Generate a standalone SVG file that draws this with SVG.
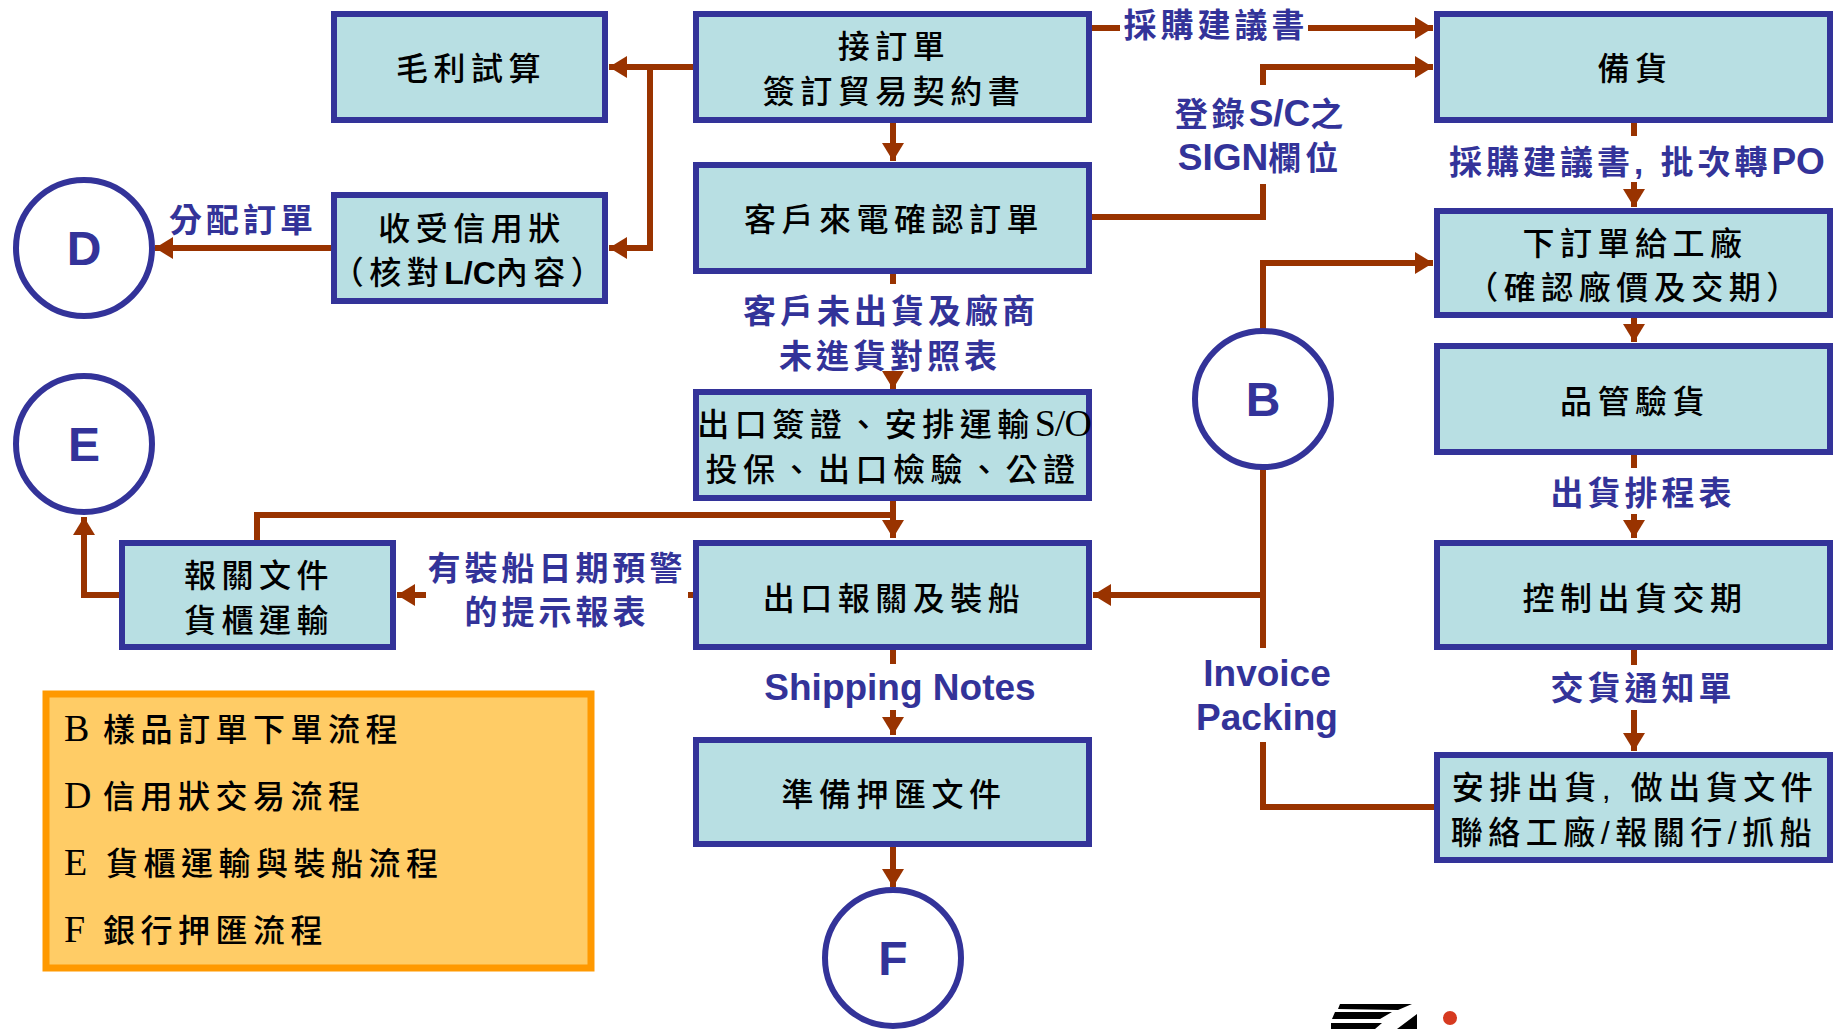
<svg xmlns="http://www.w3.org/2000/svg" width="1841" height="1029" viewBox="0 0 1841 1029">
<style>
text{font-family:"Liberation Sans","Noto Sans CJK TC",sans-serif;text-anchor:middle}
.box{fill:#B8DFE3;stroke:#333399;stroke-width:6}
.circ{fill:#fff;stroke:#333399;stroke-width:6}
.t{font-size:32px;fill:#000;letter-spacing:5.5px;font-weight:500}
.l{font-size:33px;fill:#333399;font-weight:700;letter-spacing:4px}
.en{font-size:37px;fill:#333399;font-weight:700;letter-spacing:0}
.c{font-size:48px;fill:#333399;font-weight:700}
.s{font-family:"Liberation Serif","Noto Sans CJK TC",serif}
.b{font-weight:700}
.lg{font-size:32px;fill:#000;text-anchor:start;letter-spacing:5.5px;font-weight:500}
.ll{font-size:38px}
.cn{fill:none;stroke:#993300;stroke-width:6}
.arr{fill:none;stroke:#993300;stroke-width:6;marker-end:url(#ah)}
</style>
<defs><marker id="ah" markerUnits="userSpaceOnUse" markerWidth="22" markerHeight="24" refX="18" refY="11" orient="auto"><path d="M0 0L18 11L0 22Z" fill="#993300"/></marker></defs>
<rect width="1841" height="1029" fill="#fff"/>
<g id="connectors">
<path class="arr" d="M693 67H609"/>
<path class="arr" d="M650 67V248H609"/>
<path class="arr" d="M893 122V161"/>
<path class="cn" d="M1092 28H1120"/>
<path class="arr" d="M1308 28H1433"/>
<path class="cn" d="M1092 217H1263V184"/>
<path class="arr" d="M1263 85V67H1433"/>
<path class="cn" d="M1634 122V136"/>
<path class="arr" d="M1634 182V207"/>
<path class="arr" d="M1263 331V263H1433"/>
<path class="arr" d="M1634 316V342"/>
<path class="cn" d="M1634 452V468"/>
<path class="arr" d="M1634 514V538"/>
<path class="cn" d="M1634 648V665"/>
<path class="arr" d="M1634 710V751"/>
<path class="cn" d="M1436 807H1263V742"/>
<path class="cn" d="M1263 467V648"/>
<path class="arr" d="M1263 595H1093"/>
<path class="cn" d="M893 271V284"/>
<path class="arr" d="M893 375V389"/>
<path class="arr" d="M893 498V538"/>
<path class="cn" d="M893 515H257V541"/>
<path class="cn" d="M693 595H688"/>
<path class="arr" d="M426 595H397"/>
<path class="arr" d="M120 595H84V517"/>
<path class="arr" d="M332 248H155"/>
<path class="cn" d="M893 648V664"/>
<path class="arr" d="M893 710V735"/>
<path class="arr" d="M893 845V887"/>
</g>
<g id="n-margin"><rect class="box" x="334" y="14" width="271" height="106"/><text class="t" x="471" y="80">毛利試算</text></g>
<g id="n-order"><rect class="box" x="696" y="14" width="393" height="106"/><text class="t" x="894" y="58">接訂單</text><text class="t" x="894" y="103">簽訂貿易契約書</text></g>
<g id="n-stock"><rect class="box" x="1437" y="14" width="393" height="106"/><text class="t" x="1635" y="80">備貨</text></g>
<g id="n-confirm"><rect class="box" x="696" y="165" width="393" height="106"/><text class="t" x="894" y="231">客戶來電確認訂單</text></g>
<g id="n-lc"><rect class="box" x="334" y="195" width="271" height="106"/><text class="t" x="472" y="240">收受信用狀</text><text class="t" x="470" y="284" letter-spacing="6">（核對<tspan class="b" letter-spacing="0">L/C</tspan>內容）</text></g>
<g id="n-po"><rect class="box" x="1437" y="211" width="393" height="104"/><text class="t" x="1635" y="255">下訂單給工廠</text><text class="t" x="1635" y="299">（確認廠價及交期）</text></g>
<g id="n-qc"><rect class="box" x="1437" y="346" width="393" height="106"/><text class="t" x="1635" y="413">品管驗貨</text></g>
<g id="n-export"><rect class="box" x="696" y="392" width="393" height="106"/><text class="t" x="894" y="436" letter-spacing="4.2">出口簽證、安排運輸<tspan class="s" font-size="38" letter-spacing="-1">S/O</tspan></text><text class="t" x="893" y="481">投保、出口檢驗、公證</text></g>
<g id="n-customs"><rect class="box" x="696" y="543" width="393" height="104"/><text class="t" x="894" y="610">出口報關及裝船</text></g>
<g id="n-docs"><rect class="box" x="122" y="543" width="271" height="104"/><text class="t" x="259" y="587">報關文件</text><text class="t" x="259" y="632">貨櫃運輸</text></g>
<g id="n-control"><rect class="box" x="1437" y="543" width="393" height="104"/><text class="t" x="1635" y="610">控制出貨交期</text></g>
<g id="n-ship"><rect class="box" x="1437" y="755" width="393" height="105"/><text class="t" x="1635" y="799">安排出貨, 做出貨文件</text><text class="t" x="1634" y="844" letter-spacing="3.5">聯絡工廠/報關行/抓船</text></g>
<g id="n-bills"><rect class="box" x="696" y="740" width="393" height="104"/><text class="t" x="894" y="806">準備押匯文件</text></g>
<g id="c-D"><circle class="circ" cx="84" cy="248" r="68"/><text class="c" x="84" y="265">D</text></g>
<g id="c-E"><circle class="circ" cx="84" cy="444" r="68"/><text class="c" x="84" y="461">E</text></g>
<g id="c-B"><circle class="circ" cx="1263" cy="399" r="68"/><text class="c" x="1263" y="416">B</text></g>
<g id="c-F"><circle class="circ" cx="893" cy="958" r="68"/><text class="c" x="893" y="975">F</text></g>
<g id="labels">
<text class="l" x="1216" y="37">採購建議書</text>
<text class="l" x="1261" y="126">登錄<tspan class="en">S/C</tspan>之</text>
<text class="l" x="1260" y="170"><tspan class="en">SIGN</tspan>欄位</text>
<text class="l" x="1637" y="174" letter-spacing="3.6">採購建議書, 批次轉<tspan class="en">PO</tspan></text>
<text class="l" x="243" y="232">分配訂單</text>
<text class="l" x="891" y="323" letter-spacing="7.5">客戶未出貨及廠商</text>
<text class="l" x="890" y="368" letter-spacing="7.5">未進貨對照表</text>
<text class="l" x="1643" y="505" letter-spacing="6">出貨排程表</text>
<text class="l" x="557" y="580" letter-spacing="5">有裝船日期預警</text>
<text class="l" x="557" y="624" letter-spacing="5">的提示報表</text>
<text class="en" x="900" y="700">Shipping Notes</text>
<text class="en" x="1267" y="686">Invoice</text>
<text class="en" x="1267" y="730">Packing</text>
<text class="l" x="1643" y="700" letter-spacing="6">交貨通知單</text>
</g>
<g id="legend"><rect x="46" y="694" width="545" height="274" fill="#FFCC66" stroke="#FF9900" stroke-width="7"/>
<text class="lg" x="64" y="741"><tspan class="s ll">B</tspan><tspan x="103">樣品訂單下單流程</tspan></text>
<text class="lg" x="64" y="808"><tspan class="s ll">D</tspan><tspan x="103">信用狀交易流程</tspan></text>
<text class="lg" x="64" y="875"><tspan class="s ll">E</tspan><tspan x="106">貨櫃運輸與裝船流程</tspan></text>
<text class="lg" x="64" y="942"><tspan class="s ll">F</tspan><tspan x="103">銀行押匯流程</tspan></text></g>
<g id="logo"><path d="M1340 1004H1412L1398 1010L1338 1009ZM1335 1012H1392L1380 1019H1332ZM1331 1023H1382L1375 1029H1331ZM1397 1029L1417 1014V1029Z" fill="#000"/><circle cx="1450" cy="1018" r="7" fill="#D63A20"/></g>
</svg>
